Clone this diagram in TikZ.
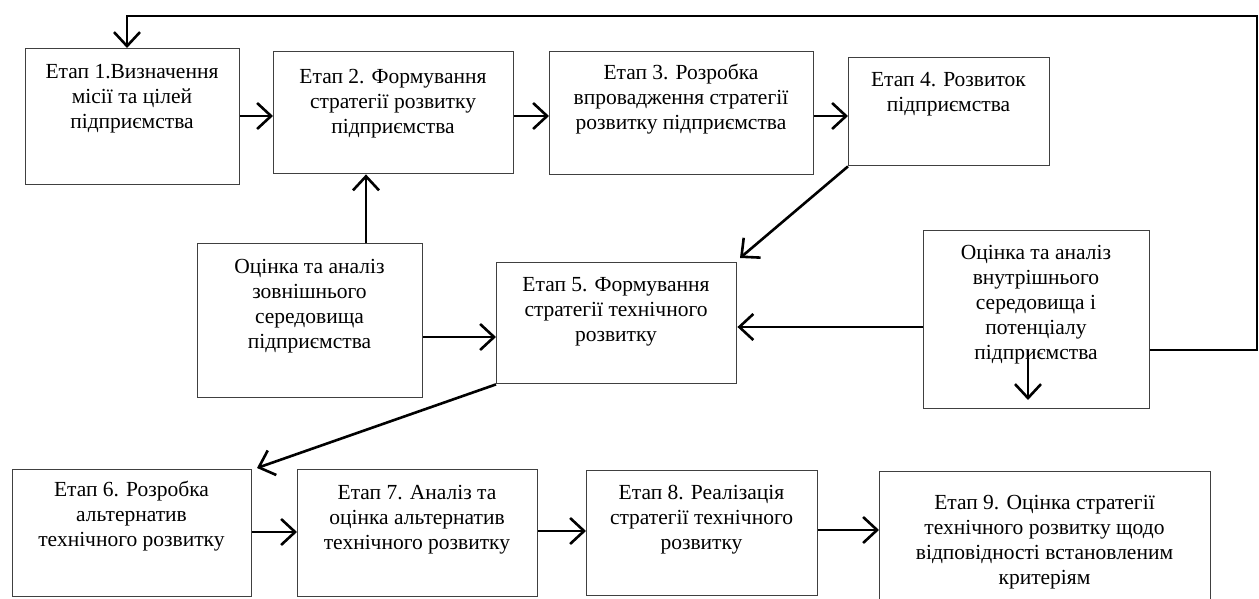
\documentclass[tikz,border=0pt]{standalone}
\usepackage{fontspec}
\setmainfont{Liberation Serif}
\usetikzlibrary{arrows.meta}
\begin{document}
\begin{tikzpicture}[x=1pt,y=-1pt,
  stagebox/.style={draw=black!75, line width=1.4pt, rectangle, inner sep=0pt, anchor=north west},
  stagetext/.style={anchor=north, inner sep=0pt, align=center,
    font=\fontsize{21.5}{25}\selectfont},
  conn/.style={line width=2.6pt, black,
    -{Straight Barb[length=14pt, width=26pt, line width=2.6pt]}},
  plain/.style={line width=2.6pt, black}]
\clip (0,0) rectangle (1259,599);
\fill[white] (0,0) rectangle (1259,599);

% stage boxes
\node[stagebox, minimum width=214pt, minimum height=136pt] (b1) at (25,48) {};
\node[stagebox, minimum width=240pt, minimum height=122pt] (b2) at (273,51) {};
\node[stagebox, minimum width=264pt, minimum height=123pt] (b3) at (549,51) {};
\node[stagebox, minimum width=201pt, minimum height=108pt] (b4) at (848,57) {};
\node[stagebox, minimum width=225pt, minimum height=154pt] (ext) at (197,243) {};
\node[stagebox, minimum width=240pt, minimum height=121pt] (b5) at (496,262) {};
\node[stagebox, minimum width=226pt, minimum height=178pt] (int) at (923,230) {};
\node[stagebox, minimum width=239pt, minimum height=127pt] (b6) at (12,469) {};
\node[stagebox, minimum width=240pt, minimum height=127pt] (b7) at (297,469) {};
\node[stagebox, minimum width=231pt, minimum height=125pt] (b8) at (586,470) {};
\node[stagebox, minimum width=331pt, minimum height=150pt] (b9) at (879,471) {};

% texts
\node[stagetext] (t1) at (132,61) {\strut Етап 1.Визначення\\\strut місії та цілей\\\strut підприємства};
\node[stagetext] (t2) at (393,66) {\strut Етап 2. Формування\\\strut стратегії розвитку\\\strut підприємства};
\node[stagetext] (t3) at (681,62) {\strut Етап 3. Розробка\\\strut впровадження стратегії\\\strut розвитку підприємства};
\node[stagetext] (t4) at (948.5,69) {\strut Етап 4. Розвиток\\\strut підприємства};
\node[stagetext] (text) at (309.5,256) {\strut Оцінка та аналіз\\\strut зовнішнього\\\strut середовища\\\strut підприємства};
\node[stagetext] (t5) at (616,274) {\strut Етап 5. Формування\\\strut стратегії технічного\\\strut розвитку};
\node[stagetext] (tint) at (1036,242) {\strut Оцінка та аналіз\\\strut внутрішнього\\\strut середовища і\\\strut потенціалу\\\strut підприємства};
\node[stagetext] (t6) at (131.5,479) {\strut Етап 6. Розробка\\\strut альтернатив\\\strut технічного розвитку};
\node[stagetext] (t7) at (417,482) {\strut Етап 7. Аналіз та\\\strut оцінка альтернатив\\\strut технічного розвитку};
\node[stagetext] (t8) at (701.5,482) {\strut Етап 8. Реалізація\\\strut стратегії технічного\\\strut розвитку};
\node[stagetext] (t9) at (1044.5,492) {\strut Етап 9. Оцінка стратегії\\\strut технічного розвитку щодо\\\strut відповідності встановленим\\\strut критеріям};

% feedback loop points
\coordinate (loopA) at (1257,350);
\coordinate (loopB) at (1257,16);
\coordinate (loopC) at (127,16);
\coordinate (downS) at (1028,350);
\coordinate (downE) at (1028,400);

% connectors
\draw[conn] (b1.east |- 0,116) -- (b2.west |- 0,116);
\draw[conn] (b2.east |- 0,116) -- (b3.west |- 0,116);
\draw[conn] (b3.east |- 0,116) -- (b4.west |- 0,116);
\draw[conn] (ext.north -| 366,0) -- (b2.south -| 366,0);
\draw[conn] (ext.east |- 0,337) -- (b5.west |- 0,337);
\draw[conn] (int.west |- 0,327) -- (b5.east |- 0,327);
\draw[conn] (b4.south west) -- (740,258);
\draw[conn] (b5.south west) -- (257,468);
\draw[conn] (b6.east |- 0,532) -- (b7.west |- 0,532);
\draw[conn] (b7.east |- 0,531) -- (b8.west |- 0,531);
\draw[conn] (b8.east |- 0,530) -- (b9.west |- 0,530);
\draw[conn] (int.east |- loopA) -- (loopA) -- (loopB) -- (loopC) -- (b1.north -| loopC);
\draw[conn] (downS) -- (downE);
\end{tikzpicture}
\end{document}
